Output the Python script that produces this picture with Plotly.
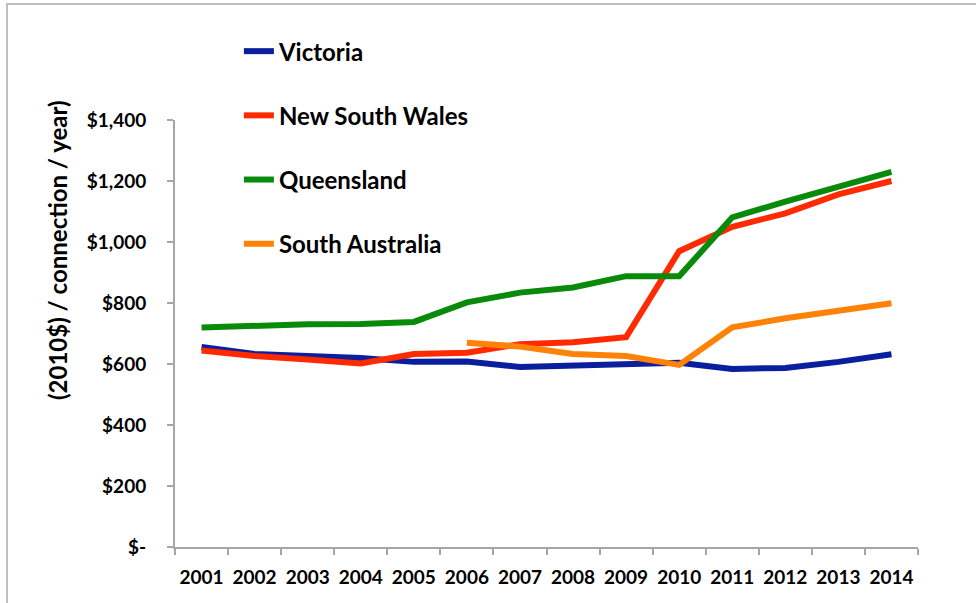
import plotly.graph_objects as go

years = ["2001", "2002", "2003", "2004", "2005", "2006", "2007",
         "2008", "2009", "2010", "2011", "2012", "2013", "2014"]

victoria = [656, 633, 626, 620, 607, 608, 590, 594, 596, 604, 584, 587, 607, 632]
nsw = [644, 626, 615, 602, 633, 637, 665, 671, 688, 970, 1050, 1094, 1156, 1200]
queensland = [720, 726, 730, 731, 738, 802, 834, 851, 888, 888, 1081, 1132, 1181, 1230]
south_australia = [None, None, None, None, None, 670, 657, 633, 626, 597, 720, 750, 775, 799]

series_names = ["Victoria", "New South Wales", "Queensland", "South Australia"]
series_values = [victoria, nsw, queensland, south_australia]
series_colors = ["#0A1F9E", "#FF2A00", "#0A8A0A", "#FF8208"]

y_tick_vals = [0, 200, 400, 600, 800, 1000, 1200, 1400]
y_tick_text = ["$-", "$200", "$400", "$600", "$800", "$1,000", "$1,200", "$1,400"]

FONT = "Lato"

fig = go.Figure()
for i, (name, vals, col) in enumerate(zip(series_names, series_values, series_colors)):
    fig.add_trace(go.Scatter(
        x=years, y=vals, name=name, mode="lines",
        line=dict(color=col, width=6),
        legendgroup=f"g{i}",
        connectgaps=False,
    ))

axis_gray = "#A6A6A6"

fig.update_layout(
    width=976, height=603,
    margin=dict(l=175, r=58, t=120, b=56, autoexpand=False),
    paper_bgcolor="white", plot_bgcolor="white",
    font=dict(family=FONT, color="black"),
    showlegend=True,
    legend=dict(
        x=0.086, y=1.213, xanchor="left", yanchor="top",
        font=dict(family=FONT, size=24, color="black", weight="bold"),
        tracegroupgap=30,
        bgcolor="rgba(0,0,0,0)",
        itemwidth=30,
    ),
    xaxis=dict(
        type="category",
        range=[-0.5, 13.5],
        automargin=False,
        tickangle=0,
        showline=True, linecolor=axis_gray, linewidth=2,
        ticks="outside", ticklen=6, tickcolor=axis_gray, tickwidth=2,
        tickson="boundaries",
        showgrid=False, zeroline=False,
        tickfont=dict(family=FONT, size=19, color="black", weight="bold"),
        ticklabelstandoff=12,
    ),
    yaxis=dict(
        range=[0, 1400],
        automargin=False,
        tickvals=y_tick_vals, ticktext=y_tick_text,
        showline=True, linecolor=axis_gray, linewidth=2,
        ticks="outside", ticklen=6, tickcolor=axis_gray, tickwidth=2,
        showgrid=False, zeroline=False,
        tickfont=dict(family=FONT, size=19, color="black", weight="bold"),
        ticklabelstandoff=17,
    ),
    shapes=[dict(
        type="rect", xref="paper", yref="paper",
        x0=-0.2261, x1=2, y0=-2, y1=1.2717,
        line=dict(color="#BFBFBF", width=2), fillcolor="rgba(0,0,0,0)",
        layer="below",
    )],
    annotations=[dict(
        text="(2010$) / connection / year)",
        xref="paper", yref="paper",
        x=(57 - 175) / 743, y=(547 - 250) / 427,
        xanchor="center", yanchor="middle",
        textangle=-90, showarrow=False,
        font=dict(family=FONT, size=24, color="black", weight="bold"),
    )],
)

fig.write_html("out.html")
